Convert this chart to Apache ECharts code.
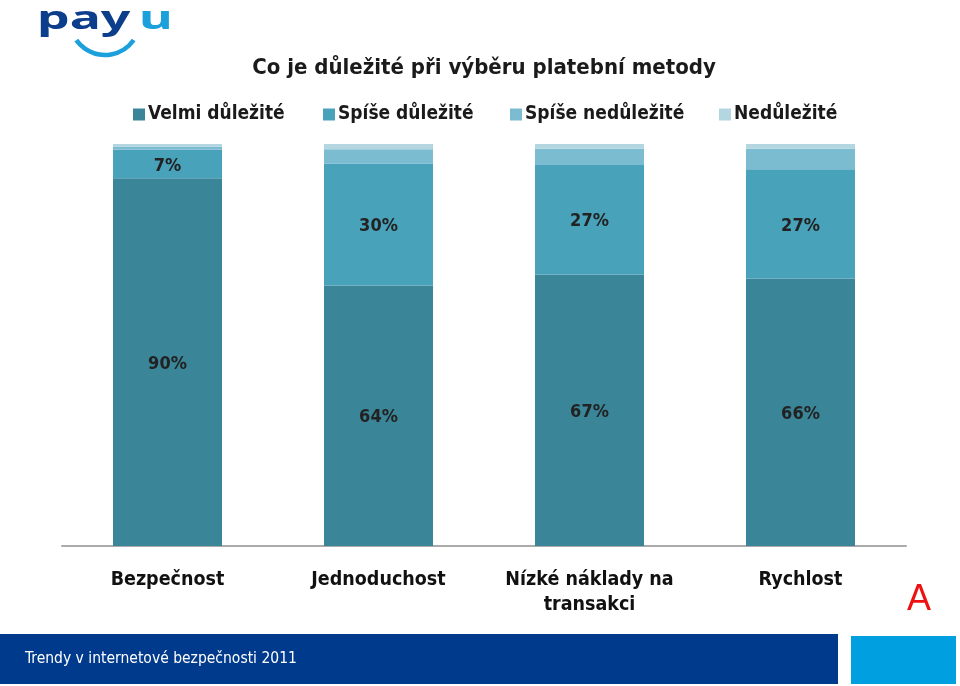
<!DOCTYPE html>
<html>
<head>
<meta charset="utf-8">
<script src="https://cdn.jsdelivr.net/npm/echarts@6/dist/echarts.min.js"></script>
<style>
html,body{margin:0;padding:0;background:#fff;}
#c{width:960px;height:686px;}
</style>
</head>
<body>
<div id="c"></div>
<script>
var categories = ['Bezpečnost', 'Jednoduchost', 'Nízké náklady na\ntransakci', 'Rychlost'];
var seriesNames = ['Velmi důležité', 'Spíše důležité', 'Spíše nedůležité', 'Nedůležité'];
var velmi = [90, 64, 67, 66];
var spise = [7, 30, 27, 27];
var spiseNe = [0.8, 3.5, 4, 5];
var nedulezite = [0.6, 1.3, 1.2, 1.2];
var showLabels = [true, true, false, false];
var colors = ['#3a8598', '#48a2ba', '#7bbcd1', '#b3d6e1'];
var legendLeft = [133, 323, 510, 719];

var FONT = '"DejaVu Sans Condensed", "DejaVu Sans", sans-serif';
var raw = [velmi, spise, spiseNe, nedulezite];
var totals = categories.map(function (c, i) {
  return raw.reduce(function (s, arr) { return s + arr[i]; }, 0);
});

var series = raw.map(function (arr, k) {
  return {
    name: seriesNames[k],
    type: 'bar',
    stack: 'total',
    barWidth: 109,
    itemStyle: { color: colors[k] },
    data: arr.map(function (v, i) {
      return { value: v / totals[i] * 100, raw: v };
    }),
    label: {
      show: showLabels[k],
      position: 'inside',
      offset: [0, 2],
      color: '#222',
      fontFamily: FONT,
      fontWeight: 'bold',
      fontSize: 18,
      formatter: function (p) { return p.data.raw + '%'; }
    }
  };
});

var legends = seriesNames.map(function (n, k) {
  return {
    left: legendLeft[k], top: 105, padding: 0,
    itemWidth: 12, itemHeight: 12,
    icon: 'rect',
    textStyle: { fontFamily: FONT, fontWeight: 'bold', fontSize: 19, color: '#1a1a1a', padding: [0, 0, 0, -2] },
    data: [n]
  };
});

var chart = echarts.init(document.getElementById('c'));
chart.setOption({
  backgroundColor: '#fff',
  animation: false,
  color: colors,
  legend: legends,
  grid: { left: 62, right: 54, top: 144, bottom: 140 },
  xAxis: {
    type: 'category',
    data: categories,
    axisLine: { lineStyle: { color: '#aaaaaa', width: 2 } },
    axisTick: { show: false },
    axisLabel: {
      interval: 0, hideOverlap: false,
      margin: 21, color: '#111', fontFamily: FONT, fontWeight: 'bold', fontSize: 19.5, lineHeight: 25
    }
  },
  yAxis: { type: 'value', min: 0, max: 100, show: false, splitLine: { show: false } },
  series: series,
  graphic: [
    { type: 'text', x: 484, y: 68, style: { text: 'Co je důležité při výběru platební metody', fill: '#1a1a1a', font: 'bold 22px ' + FONT, align: 'center', verticalAlign: 'middle' } },
    { type: 'text', x: 37, y: 20, scaleX: 1.62, style: { text: 'pay', fill: '#0c3e8c', font: 'bold 32px "Noto Sans", sans-serif', align: 'left', verticalAlign: 'middle' } },
    { type: 'text', x: 139, y: 20, scaleX: 1.62, style: { text: 'u', fill: '#1ba0db', font: 'bold 32px "Noto Sans", sans-serif', align: 'left', verticalAlign: 'middle' } },
    { type: 'arc', shape: { cx: 105, cy: 20, r: 35, startAngle: 0.61, endAngle: 2.53 }, style: { stroke: '#1ba0db', lineWidth: 4.5, fill: null } },
    { type: 'rect', shape: { x: 0, y: 634, width: 838, height: 50 }, style: { fill: '#003a8c' } },
    { type: 'rect', shape: { x: 851, y: 636, width: 105, height: 48 }, style: { fill: '#00a0e0' } },
    { type: 'text', x: 25, y: 659, style: { text: 'Trendy v internetové bezpečnosti 2011', fill: '#fff', font: '15.5px ' + FONT, verticalAlign: 'middle' } },
    { type: 'text', x: 907, y: 600, style: { text: 'A', fill: '#ee1111', font: '36px "Liberation Sans", sans-serif', verticalAlign: 'middle' } }
  ]
});
</script>
</body>
</html>
